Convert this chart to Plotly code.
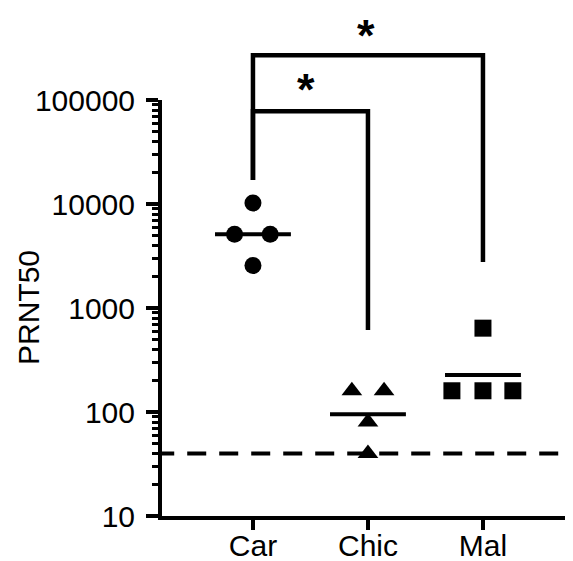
import numpy as np
import plotly.graph_objects as go

categories = ["Car", "Chic", "Mal"]
car_values = [10240, 5120, 5120, 2560]
car_jitter = [0.0, -0.16, 0.15, 0.0]
chic_values = [160, 160, 80, 40]
chic_jitter = [-0.14, 0.14, 0.0, 0.0]
mal_values = [640, 160, 160, 160]
mal_jitter = [0.0, -0.27, 0.0, 0.26]
detection_limit = 40

y_tickvals = [10, 100, 1000, 10000, 100000]
y_ticktext = ["10", "100", "1000", "10000", "100000"]
minor_vals = [m * 10 ** e for e in range(1, 5) for m in range(2, 10)]

# significance brackets: (group a, group b, leg a bottom, top, leg b bottom, label, label x, label y)
brackets = [
    (0, 1, 17000, 78000, 615, "*", 0.46, 115000),
    (0, 2, 17000, 270000, 2770, "*", 0.98, 380000),
]

FONT = "Liberation Sans, Arial, sans-serif"
BLACK = "#000000"

fig = go.Figure()

groups = [
    (car_values, car_jitter, "circle", 17),
    (chic_values, chic_jitter, "triangle-up", 18),
    (mal_values, mal_jitter, "square", 17),
]
half = 0.33
for i, (vals, jit, sym, sz) in enumerate(groups):
    gm = float(np.exp(np.mean(np.log(vals))))
    fig.add_trace(go.Scatter(
        x=[i - half, i + half], y=[gm, gm], mode="lines",
        line=dict(color=BLACK, width=4), showlegend=False, hoverinfo="skip"))
    fig.add_trace(go.Scatter(
        x=[i + j for j in jit], y=vals, mode="markers",
        marker=dict(symbol=sym, size=sz, color=BLACK, line=dict(width=0)),
        showlegend=False, cliponaxis=False))

# detection limit dashed line
fig.add_trace(go.Scatter(
    x=[-0.85, 2.9], y=[detection_limit, detection_limit], mode="lines",
    line=dict(color=BLACK, width=4, dash="19px,13px"), showlegend=False, hoverinfo="skip"))

for a, b, la, top, lb, lab, lx, ly in brackets:
    fig.add_trace(go.Scatter(
        x=[a, a, b, b], y=[la, top, top, lb], mode="lines",
        line=dict(color=BLACK, width=4.5), xaxis="x2", yaxis="y2",
        showlegend=False, hoverinfo="skip"))
    fig.add_trace(go.Scatter(
        x=[lx], y=[ly], mode="text", text=[lab],
        textfont=dict(family=FONT, size=45, color=BLACK, weight="bold"),
        textposition="middle center", xaxis="x2", yaxis="y2",
        showlegend=False, hoverinfo="skip", cliponaxis=False))

main_dom = 416 / 508
xr = [-0.791, 2.783]
fig.update_layout(
    width=573, height=561,
    margin=dict(l=154, r=8, t=0, b=53, autoexpand=False),
    paper_bgcolor="white", plot_bgcolor="rgba(0,0,0,0)",
    font=dict(family=FONT, size=30, color=BLACK),
    xaxis=dict(domain=[0, 1], range=xr, tickvals=[0, 1, 2], ticktext=categories,
               showline=True, linewidth=4, linecolor=BLACK,
               ticks="outside", ticklen=10, tickwidth=4, tickcolor=BLACK,
               showgrid=False, zeroline=False, anchor="y", automargin=False,
               ticklabelstandoff=-10, tickfont=dict(size=30)),
    yaxis=dict(type="log", domain=[0, main_dom], range=[1, 5],
               tickmode="array", tickvals=y_tickvals, ticktext=y_ticktext,
               showline=True, linewidth=4, linecolor=BLACK,
               ticks="outside", ticklen=12, tickwidth=4, tickcolor=BLACK,
               minor=dict(tickmode="array", tickvals=minor_vals, ticks="outside",
                          ticklen=6, tickwidth=3, tickcolor=BLACK, showgrid=False),
               showgrid=False, zeroline=False, anchor="x", automargin=False,
               ticklabelstandoff=5, tickfont=dict(size=30)),
    xaxis2=dict(domain=[0, 1], range=xr, visible=False, anchor="y2", automargin=False),
    yaxis2=dict(type="log", domain=[0, 1], range=[1, 1 + 4 / main_dom],
                visible=False, anchor="x2", automargin=False),
    annotations=[dict(text="PRNT50", x=-0.326, xref="paper", y=3, yref="y",
                      textangle=-90, showarrow=False, xanchor="center", yanchor="middle",
                      font=dict(size=30, family=FONT, color=BLACK))],
)

fig.write_html("out.html")
